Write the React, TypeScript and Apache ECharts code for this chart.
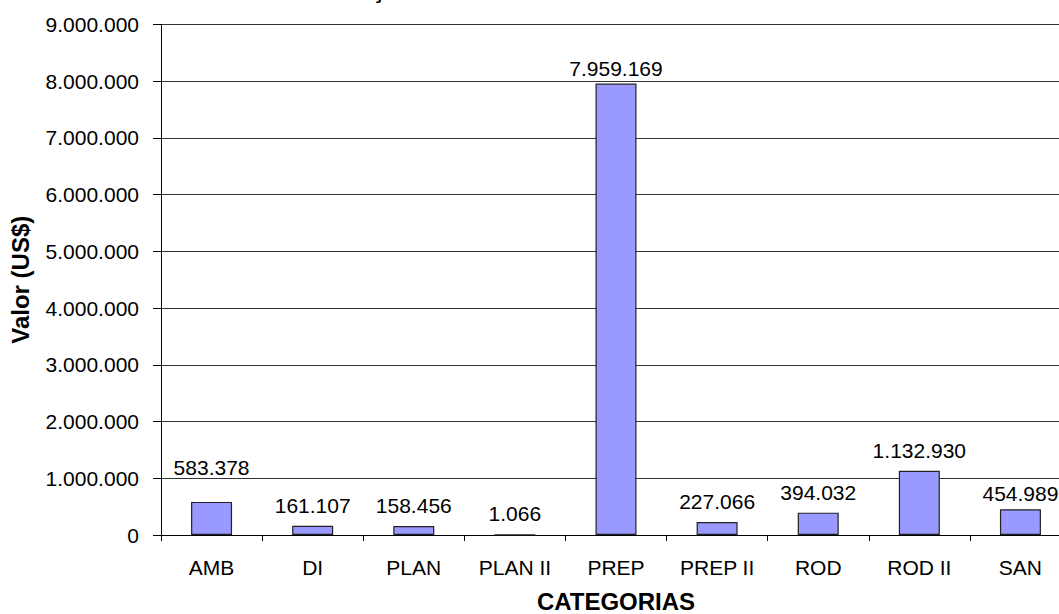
import React, { useEffect, useRef } from "react";
import * as echarts from "echarts";

const titleText = "DISTRIBUIÇÃO DOS VALORES POR CATEGORIA";
const categories = ["AMB", "DI", "PLAN", "PLAN II", "PREP", "PREP II", "ROD", "ROD II", "SAN"];
const values = [583378, 161107, 158456, 1066, 7959169, 227066, 394032, 1132930, 454989];
const yTicks = { min: 0, max: 9000000, interval: 1000000 };
// visual gap (px) between bar top and label centre, per bar (style only)
const labelGap = [34.5, 20.5, 21, 21, 15, 21, 20, 20, 15.5];

const fmt = (v: number) => String(Math.round(v)).replace(/\B(?=(\d{3})+(?!\d))/g, ".");
const FONT = "Arial, 'Liberation Sans', sans-serif";

export default function App() {
  const ref = useRef<HTMLDivElement>(null);
  useEffect(() => {
    if (!ref.current) return;
    const chart = echarts.init(ref.current, null, { renderer: "svg" });
    chart.setOption({
      animation: false,
      backgroundColor: "#fff",
      title: {
        text: titleText,
        left: "center",
        top: -28,
        textStyle: { fontFamily: FONT, fontSize: 24, fontWeight: "bold", color: "#000" },
      },
      grid: {
        left: 161,
        right: -12,
        top: 24.5,
        bottom: 79,
        containLabel: false,
        outerBoundsMode: "none",
      },
      xAxis: {
        type: "category",
        data: categories,
        name: "CATEGORIAS",
        nameLocation: "middle",
        nameGap: 54,
        nameTextStyle: { fontFamily: FONT, fontSize: 24, fontWeight: "bold", color: "#000" },
        axisLine: { lineStyle: { color: "#000", width: 1 } },
        axisTick: { show: true, length: 6, lineStyle: { color: "#000" } },
        axisLabel: { fontFamily: FONT, fontSize: 21, color: "#000", margin: 22, lineHeight: 21 },
      },
      yAxis: {
        type: "value",
        min: yTicks.min,
        max: yTicks.max,
        interval: yTicks.interval,
        name: "Valor (US$)",
        nameLocation: "middle",
        nameGap: 129,
        nameRotate: 90,
        nameTextStyle: { fontFamily: FONT, fontSize: 24, fontWeight: "bold", color: "#000" },
        axisLine: { show: true, lineStyle: { color: "#000", width: 1 } },
        axisTick: { show: true, length: 8, lineStyle: { color: "#000" } },
        axisLabel: { fontFamily: FONT, fontSize: 21, color: "#000", margin: 22, formatter: (v: number) => fmt(v) },
        splitLine: { show: true, lineStyle: { color: "#333", width: 1 } },
      },
      series: [
        {
          type: "bar",
          barWidth: 41,
          data: values.map((v, i) => ({
            value: v,
            label: { distance: labelGap[i] - 10.5 },
          })),
          itemStyle: { color: "#9999FF", borderColor: "#222", borderWidth: 1.2 },
          label: {
            show: true,
            position: "top",
            fontFamily: FONT,
            fontSize: 21,
            lineHeight: 21,
            color: "#000",
            formatter: (p: any) => fmt(p.value),
          },
        },
      ],
    });
    return () => chart.dispose();
  }, []);
  return (
    <div
      ref={ref}
      style={{ position: "absolute", left: 0, top: 0, width: 1059, height: 614 }}
    />
  );
}
